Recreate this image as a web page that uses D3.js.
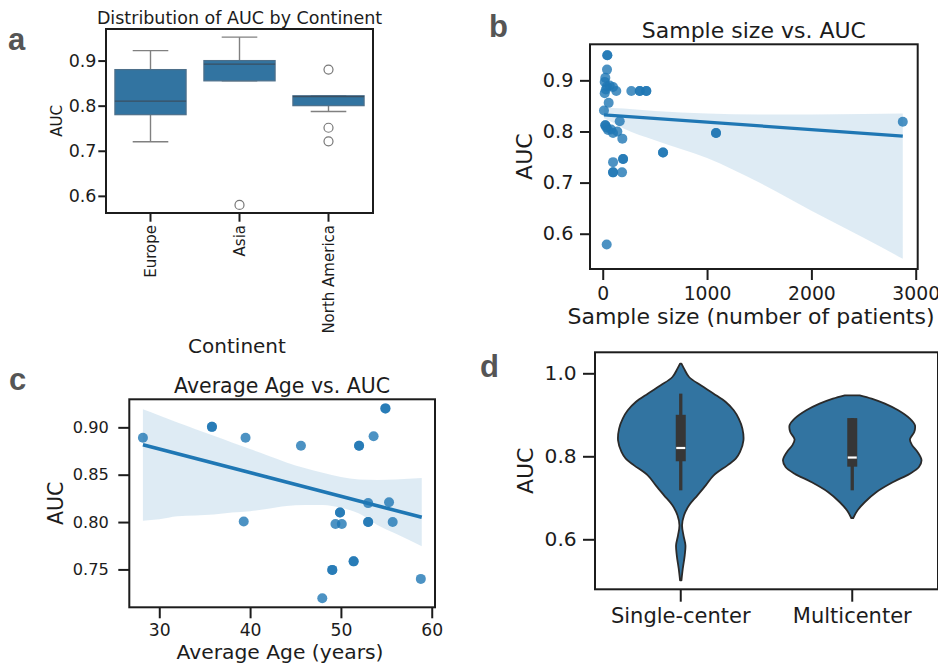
<!DOCTYPE html>
<html><head><meta charset="utf-8">
<script src="https://cdn.jsdelivr.net/npm/d3@7"></script>
<style>body{margin:0;background:#fff}</style></head>
<body><svg id="c" width="938" height="663"></svg>
<script>
// ---------- Panel a: box plot ----------
const continents = ["Europe", "Asia", "North America"];
const boxWhiskerLow = [0.72, 0.855, 0.787];
const boxQ1 = [0.78, 0.855, 0.80];
const boxMedian = [0.81, 0.892, 0.82];
const boxQ3 = [0.88, 0.90, 0.822];
const boxWhiskerHigh = [0.922, 0.952, 0.822];
const boxOutliers = [[], [0.58], [0.88, 0.751, 0.721]];
const aucTicksA = [0.6, 0.7, 0.8, 0.9];

// ---------- Panel b: sample size vs AUC ----------
const sampleSize = [44, 44, 41, 25, 19, 40, 67, 99, 130, 19, 30, 274, 355, 355, 418, 418, 57, 12, 163, 25, 25, 35, 51, 80, 99, 140, 188, 578, 578, 195, 195, 99, 99, 99, 185, 1086, 1086, 38, 2876];
const aucB = [0.949, 0.949, 0.921, 0.905, 0.897, 0.888, 0.890, 0.887, 0.879, 0.875, 0.882, 0.879, 0.879, 0.879, 0.879, 0.879, 0.856, 0.841, 0.820, 0.812, 0.812, 0.808, 0.803, 0.804, 0.797, 0.800, 0.786, 0.759, 0.759, 0.746, 0.746, 0.740, 0.720, 0.720, 0.720, 0.797, 0.797, 0.579, 0.819];
const sampleFitX = [12, 2876];
const sampleFitY = [0.8326, 0.791];
const sampleBandX = [12, 100, 200, 500, 1000, 1500, 2000, 2500, 2876];
const sampleBandLow = [0.826, 0.817, 0.806, 0.783, 0.748, 0.700, 0.645, 0.592, 0.551];
const sampleBandHigh = [0.847, 0.846, 0.845, 0.840, 0.835, 0.833, 0.833, 0.834, 0.835];
const sampleTicks = [0, 1000, 2000, 3000];
const aucTicksB = [0.6, 0.7, 0.8, 0.9];

// ---------- Panel c: average age vs AUC ----------
const avgAge = [28.2, 35.8, 35.8, 39.5, 45.6, 52.0, 52.0, 53.6, 54.9, 54.9, 53.0, 55.3, 39.3, 49.9, 49.9, 49.4, 50.1, 53.0, 53.0, 55.7, 51.4, 51.4, 49.05, 49.05, 47.95, 58.8];
const aucC = [0.889, 0.9005, 0.9005, 0.889, 0.8805, 0.8805, 0.8805, 0.8905, 0.920, 0.920, 0.820, 0.821, 0.8005, 0.810, 0.810, 0.798, 0.798, 0.800, 0.800, 0.800, 0.7585, 0.7585, 0.7495, 0.7495, 0.7195, 0.740];
const ageFitX = [28.2, 58.9];
const ageFitY = [0.8816, 0.805];
const ageBandX = [28.2, 30, 32, 34, 36, 38, 40, 42, 44, 46, 48, 50, 52, 54, 56, 58.9];
const ageBandLow = [0.8015, 0.803, 0.806, 0.807, 0.808, 0.810, 0.8115, 0.814, 0.817, 0.818, 0.818, 0.815, 0.809, 0.797, 0.788, 0.7745];
const ageBandHigh = [0.919, 0.9125, 0.905, 0.898, 0.891, 0.884, 0.877, 0.870, 0.863, 0.857, 0.852, 0.8475, 0.845, 0.8445, 0.845, 0.8465];
const ageTicks = [30, 40, 50, 60];
const aucTicksC = [0.75, 0.80, 0.85, 0.90];

// ---------- Panel d: violin ----------
const designs = ["Single-center", "Multicenter"];
const violinSingleAUC = [1.0232, 1.0112, 0.9911, 0.9710, 0.9509, 0.9308, 0.9108, 0.8907, 0.8666, 0.8385, 0.8104, 0.7943, 0.7782, 0.7541, 0.7300, 0.7060, 0.6819, 0.6578, 0.6337, 0.6096, 0.5855, 0.5614, 0.5292, 0.5011];
const violinSingleDensity = [0.01, 0.047, 0.119, 0.286, 0.471, 0.643, 0.757, 0.829, 0.881, 0.896, 0.847, 0.786, 0.667, 0.471, 0.357, 0.239, 0.119, 0.047, 0.019, 0.039, 0.067, 0.057, 0.029, 0.01];
const violinMultiAUC = [0.9469, 0.9389, 0.9268, 0.9108, 0.8907, 0.8746, 0.8586, 0.8409, 0.8264, 0.8104, 0.7903, 0.7742, 0.7581, 0.7381, 0.7140, 0.6899, 0.6698, 0.6513];
const violinMultiDensity = [0.107, 0.276, 0.467, 0.657, 0.824, 0.896, 0.886, 0.824, 0.857, 0.933, 0.99, 0.953, 0.824, 0.586, 0.347, 0.181, 0.076, 0.014];
const innerLow = [0.718, 0.718];
const innerQ1 = [0.788, 0.775];
const innerMedian = [0.82, 0.797];
const innerQ3 = [0.90, 0.892];
const innerHigh = [0.951, 0.892];
const aucTicksD = [0.6, 0.8, 1.0];

// ---------- drawing ----------
const svg = d3.select("#c");
svg.append("rect").attr("width", 938).attr("height", 663).attr("fill", "#fff");
const FONT = "DejaVu Sans, Verdana, sans-serif";
const INK = "#1c1c1c";
const BLUE = "#1f77b4";
const SEA = "#3274a1";

function styleAxis(g, fs) {
  g.select(".domain").remove();
  g.attr("font-family", FONT).attr("font-size", fs);
  g.selectAll(".tick line").attr("stroke", INK).attr("stroke-width", 2);
  g.selectAll(".tick text").attr("fill", INK);
}
function frame(x0, y0, x1, y1) {
  svg.append("rect").attr("x", x0).attr("y", y0).attr("width", x1 - x0).attr("height", y1 - y0)
    .attr("fill", "none").attr("stroke", INK).attr("stroke-width", 2);
}
function text(x, y, s, fs, opts = {}) {
  const t = svg.append("text").attr("x", x).attr("y", y).text(s)
    .attr("font-family", opts.family || FONT).attr("font-size", fs)
    .attr("fill", opts.fill || INK).attr("text-anchor", opts.anchor || "middle");
  if (opts.weight) t.attr("font-weight", opts.weight);
  if (opts.rotate) t.attr("transform", `rotate(-90,${x},${y})`);
  return t;
}
function panelLabel(x, y, s) {
  text(x, y, s, 31, {family: "Liberation Sans, Arial, sans-serif", weight: 700, fill: "#555", anchor: "start"});
}

// ===== Panel a =====
{
  const L = 106, R = 373, T = 29, B = 213;
  const x = d3.scaleBand().domain(continents).range([L, R]);
  const y = d3.scaleLinear().domain([0.562, 0.970]).range([B, T]);
  const bw = x.bandwidth() * 0.8;
  continents.forEach((c, i) => {
    const cx = x(c) + x.bandwidth() / 2;
    const g = svg.append("g");
    // whiskers
    g.append("line").attr("x1", cx).attr("x2", cx).attr("y1", y(boxQ3[i])).attr("y2", y(boxWhiskerHigh[i])).attr("stroke", "#808080").attr("stroke-width", 1.4);
    g.append("line").attr("x1", cx).attr("x2", cx).attr("y1", y(boxQ1[i])).attr("y2", y(boxWhiskerLow[i])).attr("stroke", "#808080").attr("stroke-width", 1.4);
    g.append("line").attr("x1", cx - bw / 4).attr("x2", cx + bw / 4).attr("y1", y(boxWhiskerHigh[i])).attr("y2", y(boxWhiskerHigh[i])).attr("stroke", "#808080").attr("stroke-width", 1.4);
    g.append("line").attr("x1", cx - bw / 4).attr("x2", cx + bw / 4).attr("y1", y(boxWhiskerLow[i])).attr("y2", y(boxWhiskerLow[i])).attr("stroke", "#808080").attr("stroke-width", 1.4);
    g.append("rect").attr("x", cx - bw / 2).attr("width", bw).attr("y", y(boxQ3[i])).attr("height", Math.max(1, y(boxQ1[i]) - y(boxQ3[i])))
      .attr("fill", SEA).attr("stroke", "#4d6f8a").attr("stroke-width", 1.2);
    g.append("line").attr("x1", cx - bw / 2).attr("x2", cx + bw / 2).attr("y1", y(boxMedian[i])).attr("y2", y(boxMedian[i])).attr("stroke", "#3a4f62").attr("stroke-width", 1.3);
    boxOutliers[i].forEach(v => {
      g.append("circle").attr("cx", cx).attr("cy", y(v)).attr("r", 4.5).attr("fill", "#fff").attr("stroke", "#777").attr("stroke-width", 1.2);
    });
  });
  frame(L, T, R, B);
  const ya = svg.append("g").attr("transform", `translate(${L},0)`)
    .call(d3.axisLeft(y).tickValues(aucTicksA).tickFormat(d3.format(".1f")).tickSizeOuter(0).tickSizeInner(7.7).tickPadding(1.8));
  styleAxis(ya, 17.5);
  const xa = svg.append("g").attr("transform", `translate(0,${B})`)
    .call(d3.axisBottom(x).tickSizeOuter(0).tickSizeInner(8.7));
  styleAxis(xa, 15);
  xa.selectAll(".tick text").attr("y", 0).attr("x", -12).attr("dy", "0.35em").attr("transform", "rotate(-90)").attr("text-anchor", "end");
  text((L + R) / 2, 24, "Distribution of AUC by Continent", 17.5);
  text(61.5, (T + B) / 2, "AUC", 15, {rotate: true});
  text(237, 353, "Continent", 20);
  panelLabel(8, 50, "a");
}

// ===== Panel b =====
{
  const L = 590, R = 917.7, T = 44.3, B = 269;
  const x = d3.scaleLinear().domain([-122, 3019]).range([L, R]);
  const y = d3.scaleLinear().domain([0.531, 0.9705]).range([B, T]);
  svg.append("g").selectAll("circle").data(sampleSize.map((s, i) => [s, aucB[i]])).join("circle")
    .attr("cx", d => x(d[0])).attr("cy", d => y(d[1])).attr("r", 5).attr("fill", BLUE).attr("fill-opacity", 0.8);
  const band = sampleBandX.map((v, i) => ({x: v, lo: sampleBandLow[i], hi: sampleBandHigh[i]}));
  svg.append("path").datum(band).attr("d", d3.area().x(d => x(d.x)).y0(d => y(d.lo)).y1(d => y(d.hi)).curve(d3.curveMonotoneX))
    .attr("fill", BLUE).attr("fill-opacity", 0.15);
  svg.append("path").datum(sampleFitX.map((v, i) => [v, sampleFitY[i]]))
    .attr("d", d3.line().x(d => x(d[0])).y(d => y(d[1]))).attr("stroke", BLUE).attr("stroke-width", 3.2).attr("fill", "none");
  frame(L, T, R, B);
  const ya = svg.append("g").attr("transform", `translate(${L},0)`)
    .call(d3.axisLeft(y).tickValues(aucTicksB).tickFormat(d3.format(".1f")).tickSizeOuter(0).tickSizeInner(10).tickPadding(6.5));
  styleAxis(ya, 19.3);
  const xa = svg.append("g").attr("transform", `translate(0,${B})`)
    .call(d3.axisBottom(x).tickValues(sampleTicks).tickFormat(d3.format("d")).tickSizeOuter(0).tickSizeInner(11).tickPadding(7));
  styleAxis(xa, 18.8);
  text((L + R) / 2, 38, "Sample size vs. AUC", 22);
  text(532, (T + B) / 2, "AUC", 22, {rotate: true});
  text(751, 324, "Sample size (number of patients)", 22);
  panelLabel(489, 37, "b");
}

// ===== Panel c =====
{
  const L = 129.3, R = 435, T = 399.3, B = 607.3;
  const x = d3.scaleLinear().domain([26.7, 60.36]).range([L, R]);
  const y = d3.scaleLinear().domain([0.710, 0.9296]).range([B, T]);
  svg.append("g").selectAll("circle").data(avgAge.map((a, i) => [a, aucC[i]])).join("circle")
    .attr("cx", d => x(d[0])).attr("cy", d => y(d[1])).attr("r", 5).attr("fill", BLUE).attr("fill-opacity", 0.8);
  const band = ageBandX.map((v, i) => ({x: v, lo: ageBandLow[i], hi: ageBandHigh[i]}));
  svg.append("path").datum(band).attr("d", d3.area().x(d => x(d.x)).y0(d => y(d.lo)).y1(d => y(d.hi)).curve(d3.curveMonotoneX))
    .attr("fill", BLUE).attr("fill-opacity", 0.15);
  svg.append("path").datum(ageFitX.map((v, i) => [v, ageFitY[i]]))
    .attr("d", d3.line().x(d => x(d[0])).y(d => y(d[1]))).attr("stroke", BLUE).attr("stroke-width", 3.6).attr("fill", "none");
  frame(L, T, R, B);
  const ya = svg.append("g").attr("transform", `translate(${L},0)`)
    .call(d3.axisLeft(y).tickValues(aucTicksC).tickFormat(d3.format(".2f")).tickSizeOuter(0).tickSizeInner(11).tickPadding(9.5));
  styleAxis(ya, 16.2);
  const xa = svg.append("g").attr("transform", `translate(0,${B})`)
    .call(d3.axisBottom(x).tickValues(ageTicks).tickFormat(d3.format("d")).tickSizeOuter(0).tickSizeInner(11).tickPadding(5));
  styleAxis(xa, 17.2);
  text((L + R) / 2, 393, "Average Age vs. AUC", 20.5);
  text(63, (T + B) / 2, "AUC", 20.5, {rotate: true});
  text(280, 659, "Average Age (years)", 20.3);
  panelLabel(9, 390, "c");
}

// ===== Panel d =====
{
  const L = 595, R = 938, T = 352.3, B = 589.3;
  const x = d3.scaleBand().domain(designs).range([L, R]);
  const y = d3.scaleLinear().domain([0.4795, 1.0506]).range([B, T]);
  const w = d3.scaleLinear().domain([0, 1]).range([0, x.bandwidth() * 0.408]);
  const shapes = [
    violinSingleAUC.map((a, i) => ({auc: a, d: violinSingleDensity[i]})),
    violinMultiAUC.map((a, i) => ({auc: a, d: violinMultiDensity[i]}))
  ];
  designs.forEach((name, i) => {
    const cx = x(name) + x.bandwidth() / 2;
    const area = d3.area().y(d => y(d.auc)).x0(d => cx - w(d.d)).x1(d => cx + w(d.d)).curve(d3.curveCatmullRom.alpha(0.5));
    svg.append("path").datum(shapes[i]).attr("d", area).attr("fill", SEA).attr("stroke", "#2a2a2a").attr("stroke-width", 1.8).attr("stroke-linejoin", "round");
    svg.append("line").attr("x1", cx).attr("x2", cx).attr("y1", y(innerLow[i])).attr("y2", y(innerHigh[i])).attr("stroke", "#363636").attr("stroke-width", 3.3);
    svg.append("rect").attr("x", cx - 5).attr("width", 10).attr("y", y(innerQ3[i])).attr("height", y(innerQ1[i]) - y(innerQ3[i])).attr("fill", "#363636");
    svg.append("line").attr("x1", cx - 4.5).attr("x2", cx + 4.5).attr("y1", y(innerMedian[i])).attr("y2", y(innerMedian[i])).attr("stroke", "#fff").attr("stroke-width", 2.2);
  });
  frame(L, T, R, B);
  const ya = svg.append("g").attr("transform", `translate(${L},0)`)
    .call(d3.axisLeft(y).tickValues(aucTicksD).tickFormat(d3.format(".1f")).tickSizeOuter(0).tickSizeInner(12).tickPadding(6.3));
  styleAxis(ya, 20.2);
  const xa = svg.append("g").attr("transform", `translate(0,${B})`)
    .call(d3.axisBottom(x).tickSizeOuter(0).tickSizeInner(12.4).tickPadding(6.3));
  styleAxis(xa, 21);
  text(533, (T + B) / 2, "AUC", 22, {rotate: true});
  panelLabel(480, 377, "d");
}
</script>
</body></html>
